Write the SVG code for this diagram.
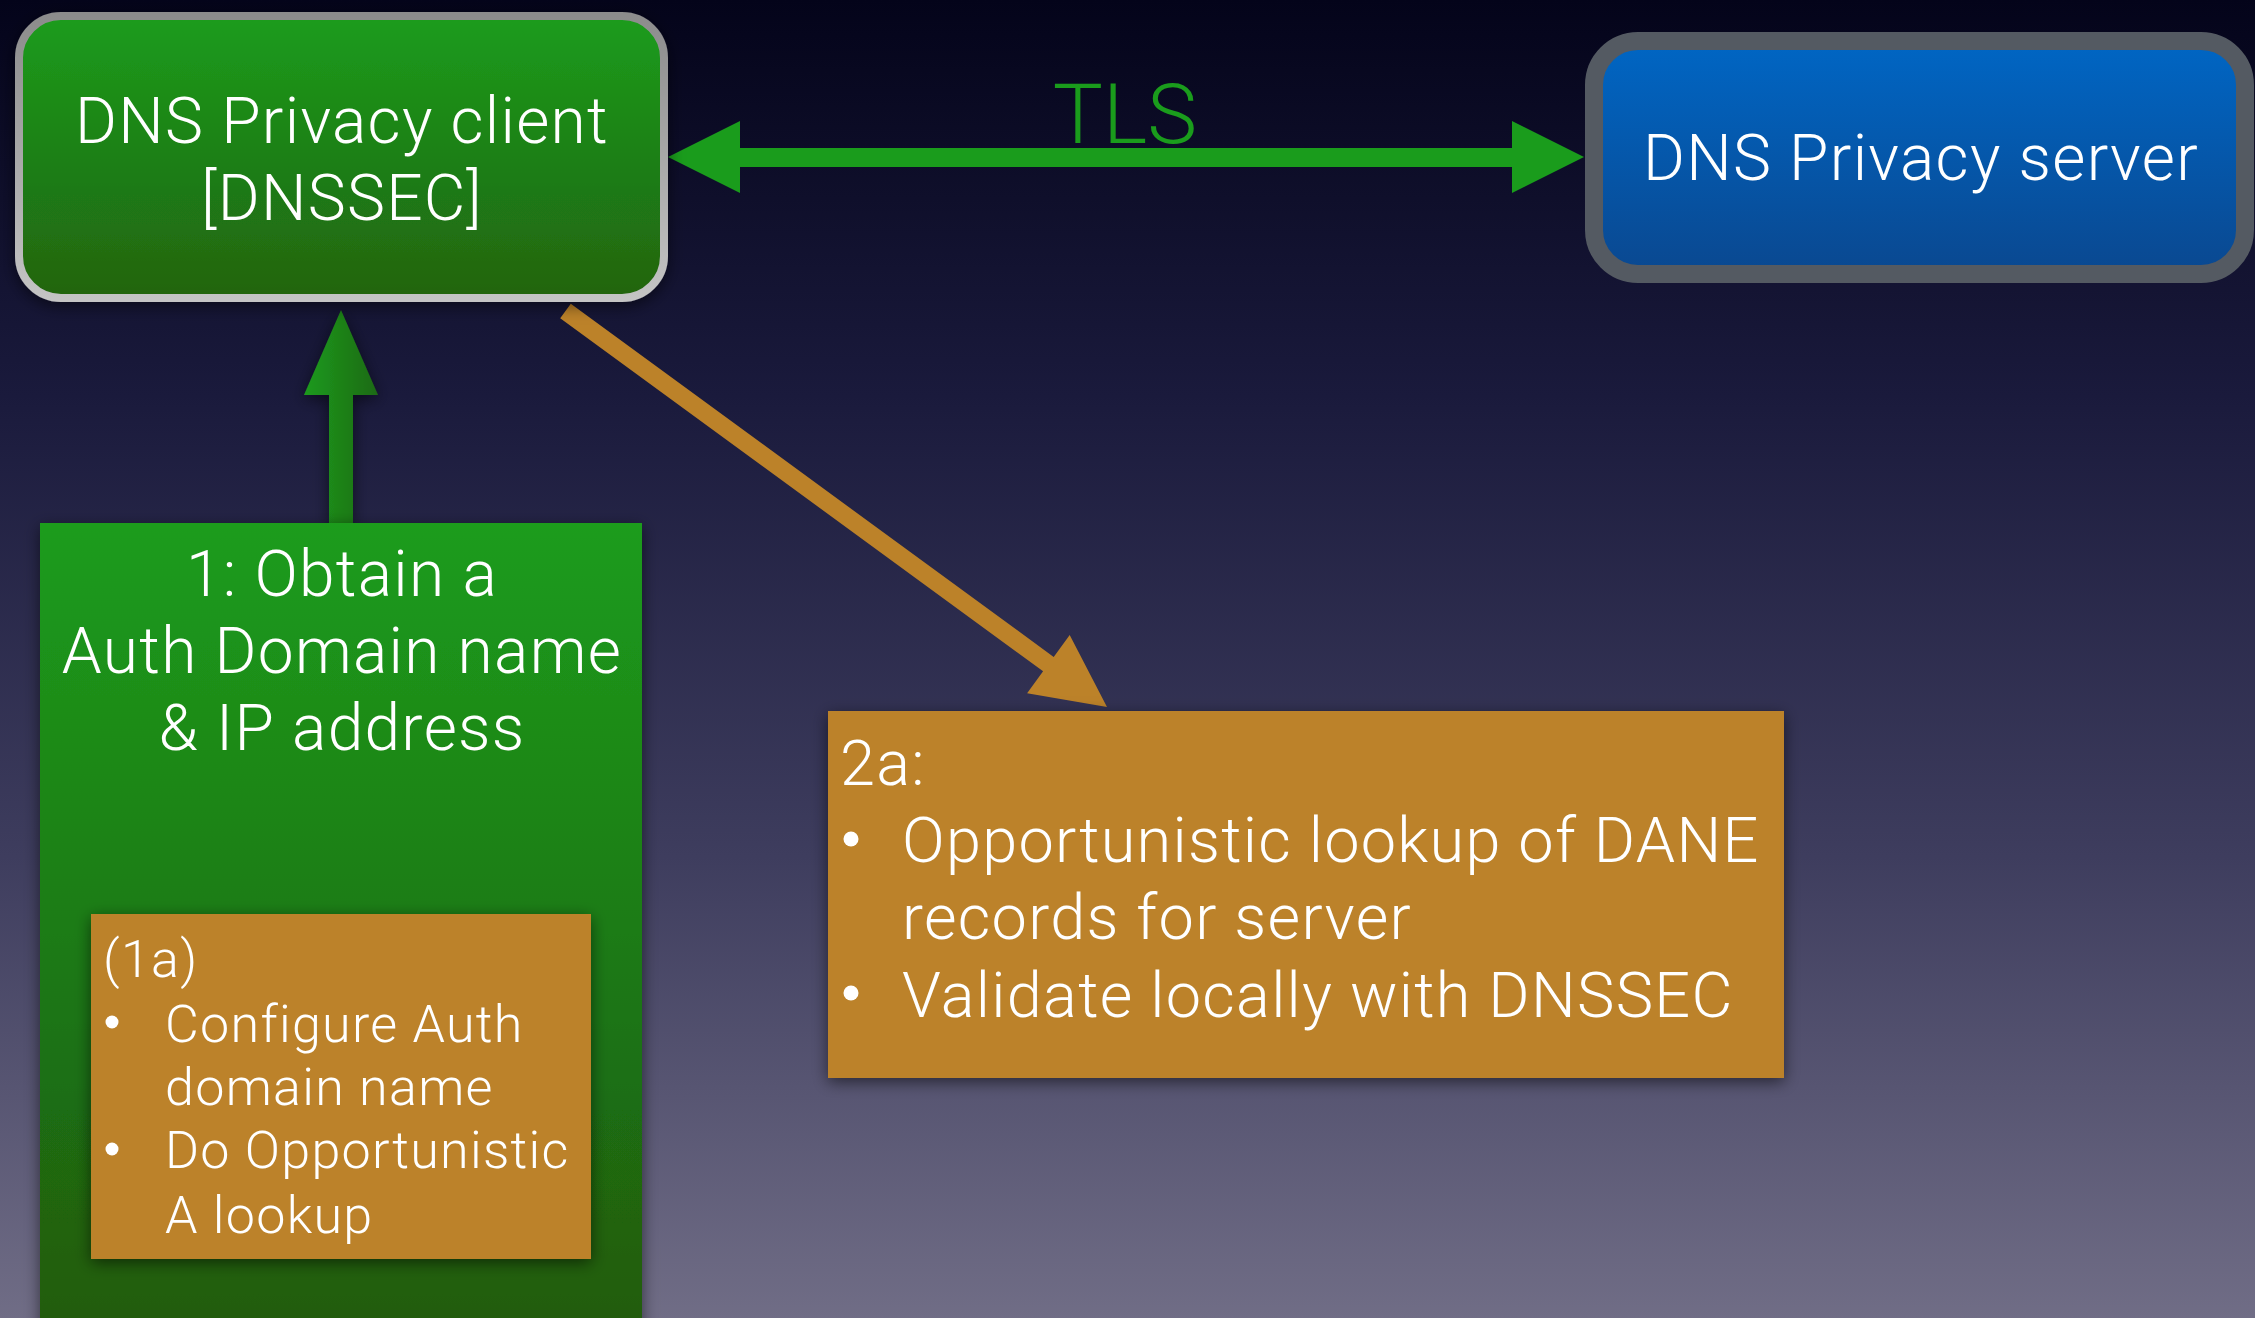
<svg xmlns="http://www.w3.org/2000/svg" width="2255" height="1318" viewBox="0 0 2255 1318">
  <defs>
    <linearGradient id="bg" x1="0" y1="0" x2="0" y2="1">
      <stop offset="0" stop-color="#04041a"/>
      <stop offset="0.3" stop-color="#1a1a3c"/>
      <stop offset="0.65" stop-color="#3e3d5e"/>
      <stop offset="1" stop-color="#706d86"/>
    </linearGradient>
    <linearGradient id="greenV" x1="0" y1="0" x2="0" y2="1">
      <stop offset="0" stop-color="#1a9c1c"/>
      <stop offset="1" stop-color="#22640f"/>
    </linearGradient>
    <linearGradient id="greenBig" x1="0" y1="0" x2="0" y2="1">
      <stop offset="0" stop-color="#1a9c1c"/>
      <stop offset="1" stop-color="#215a0e"/>
    </linearGradient>
    <linearGradient id="blueV" x1="0" y1="0" x2="0" y2="1">
      <stop offset="0" stop-color="#0066c4"/>
      <stop offset="1" stop-color="#0a4890"/>
    </linearGradient>
    <linearGradient id="silver" x1="0" y1="0" x2="0" y2="1">
      <stop offset="0" stop-color="#8c8c8c"/>
      <stop offset="1" stop-color="#c4c4c4"/>
    </linearGradient>
    <linearGradient id="upArrow" x1="0" y1="0" x2="1" y2="0">
      <stop offset="0" stop-color="#1e9a1e"/>
      <stop offset="1" stop-color="#1f6a12"/>
    </linearGradient>
    <filter id="shadow" x="-20%" y="-20%" width="140%" height="140%">
      <feDropShadow dx="0" dy="4" stdDeviation="8" flood-color="#000" flood-opacity="0.55"/>
    </filter>
  </defs>
  <style>
    .t { font-family: Roboto, "Liberation Sans", sans-serif; font-weight: 300; fill: #ffffff; letter-spacing: 1.3px; }
    .c { text-anchor: middle; }
    .orange { fill: #bc8229; }
  </style>

  <rect x="0" y="0" width="2255" height="1318" fill="url(#bg)"/>

  <g id="connectors">
    <polygon id="tls-arrow" fill="#1a9c1c" points="668,157 740,121 740,148 1512,148 1512,121 1584,157 1512,193 1512,167 740,167 740,193"/>
    <text class="t c" x="1125" y="143" font-size="84" style="fill:#1a9c1c;letter-spacing:0">TLS</text>
    <polygon id="up-arrow" fill="url(#upArrow)" filter="url(#shadow)" points="341,310 378,395 353,395 353,523 329,523 329,395 304,395"/>
    <polygon id="diag-arrow" class="orange" points="570.8,303.8 1053.7,656.9 1069.7,635 1107,707 1027.1,693.2 1043.1,671.3 560.2,318.2"/>
  </g>

  <g id="client" filter="url(#shadow)">
    <rect x="19" y="16" width="645" height="282" rx="42" fill="url(#greenV)" stroke="url(#silver)" stroke-width="8"/>
    <text class="t c" x="342" y="143" font-size="64">DNS Privacy client</text>
    <text class="t c" x="342" y="220" font-size="64">[DNSSEC]</text>
  </g>

  <g id="server">
    <rect x="1594" y="41" width="651" height="233" rx="44" fill="url(#blueV)" stroke="#545a62" stroke-width="18"/>
    <text class="t c" x="1921" y="180" font-size="64">DNS Privacy server</text>
  </g>

  <g id="step1">
    <rect x="40" y="523" width="602" height="820" fill="url(#greenBig)" filter="url(#shadow)"/>
    <text class="t c" x="342" y="596" font-size="64">1: Obtain a</text>
    <text class="t c" x="342" y="673" font-size="64">Auth Domain name</text>
    <text class="t c" x="342" y="750" font-size="64">&amp; IP address</text>
  </g>

  <g id="step1a">
    <rect class="orange" x="91" y="914" width="500" height="345" filter="url(#shadow)"/>
    <text class="t" x="103" y="977" font-size="52">(1a)</text>
    <circle cx="112" cy="1022" r="6.5" fill="#fff"/>
    <text class="t" x="165" y="1042" font-size="52">Configure Auth</text>
    <text class="t" x="165" y="1105" font-size="52">domain name</text>
    <circle cx="112" cy="1149" r="6.5" fill="#fff"/>
    <text class="t" x="165" y="1168" font-size="52">Do Opportunistic</text>
    <text class="t" x="165" y="1233" font-size="52">A lookup</text>
  </g>

  <g id="step2a">
    <rect class="orange" x="828" y="711" width="956" height="367" filter="url(#shadow)"/>
    <text class="t" x="840" y="785" font-size="63">2a:</text>
    <circle cx="851" cy="839" r="7.5" fill="#fff"/>
    <text class="t" x="902" y="862" font-size="63">Opportunistic lookup of DANE</text>
    <text class="t" x="902" y="939" font-size="63">records for server</text>
    <circle cx="851" cy="993" r="7.5" fill="#fff"/>
    <text class="t" x="902" y="1017" font-size="63">Validate locally with DNSSEC</text>
  </g>
</svg>
